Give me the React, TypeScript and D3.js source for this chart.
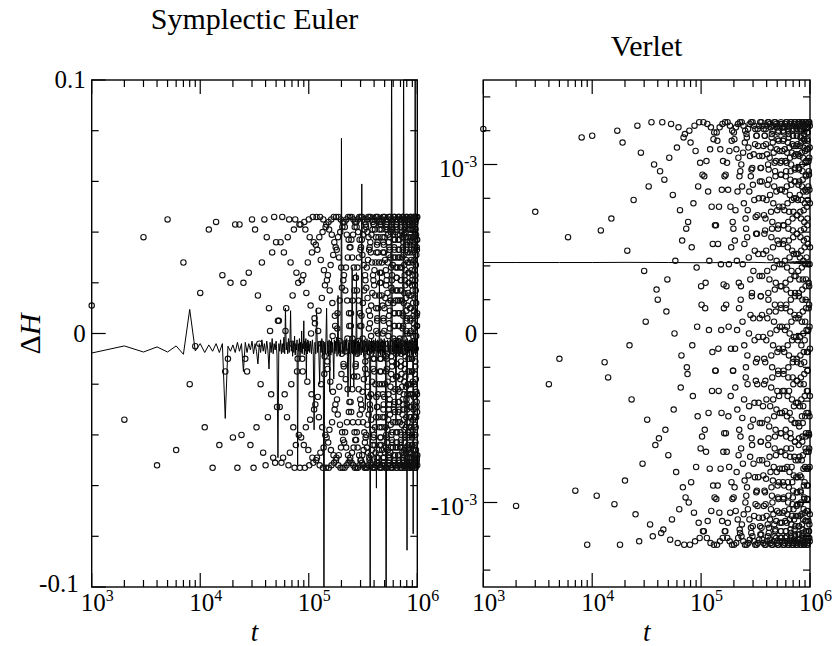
import React, { useEffect, useRef } from "react";
import * as d3 from "d3";

// one sample every 1000 time units: value i of a dot array sits at t = 1000 * (i + 1)
const sampleStep = 1000;

// Symplectic Euler, circles: ΔH in units of 1e-3 (9 samples per row)
const eulerDots = [
  11, -34, 38, -52, 45, -46, 28, -20, -5,
  16, -37, 41, -53, 44, -44, 23, -15, -10,
  20, -41, 43, -53, 43, -40, 20, -10, -15,
  24, -44, 45, -53, 41, -37, 15, -4, -20,
  28, -47, 45, -52, 38, -33, 10, 1, -24,
  32, -49, 46, -51, 36, -29, 5, 5, -29,
  36, -51, 46, -49, 32, -24, 1, 10, -33,
  38, -52, 45, -47, 28, -20, -4, 15, -37,
  41, -53, 45, -44, 24, -15, -10, 20, -40,
  43, -53, 43, -41, 21, -10, -15, 23, -44,
  44, -53, 41, -37, 16, -5, -19, 28, -46,
  45, -52, 38, -34, 11, 0, -24, 32, -49,
  46, -51, 36, -30, 6, 4, -28, 35, -50,
  46, -49, 33, -25, 1, 9, -33, 38, -52,
  46, -47, 29, -20, -4, 14, -37, 40, -53,
  45, -45, 25, -16, -9, 19, -40, 42, -53,
  43, -41, 21, -11, -14, 23, -43, 44, -53,
  41, -38, 17, -6, -19, 27, -46, 45, -52,
  39, -35, 12, -1, -23, 31, -48, 46, -51,
  36, -30, 7, 3, -28, 34, -50, 46, -49,
  33, -26, 2, 8, -32, 38, -52, 46, -48,
  30, -21, -3, 13, -36, 40, -53, 45, -45,
  26, -16, -8, 18, -39, 42, -53, 44, -42,
  21, -12, -13, 23, -43, 44, -53, 42, -39,
  17, -7, -18, 26, -45, 45, -52, 39, -35,
  13, -2, -22, 30, -48, 46, -51, 37, -31,
  8, 3, -27, 34, -50, 46, -49, 34, -27,
  3, 8, -31, 37, -51, 46, -47, 30, -22,
  -2, 13, -35, 39, -52, 45, -45, 26, -17,
  -7, 17, -39, 42, -53, 44, -42, 22, -13,
  -12, 22, -42, 44, -53, 42, -39, 17, -8,
  -17, 26, -45, 45, -53, 40, -35, 13, -3,
  -22, 30, -48, 46, -52, 37, -32, 8, 3,
  -26, 33, -50, 46, -50, 34, -28, 3, 7,
  -30, 37, -51, 46, -48, 31, -23, -2, 12,
  -35, 39, -52, 45, -46, 27, -18, -6, 17,
  -39, 41, -53, 44, -43, 23, -14, -11, 21,
  -41, 43, -53, 42, -40, 18, -9, -16, 26,
  -45, 45, -53, 40, -36, 14, -4, -21, 29,
  -47, 46, -52, 38, -32, 9, 2, -25, 33,
  -49, 46, -50, 34, -28, 4, 7, -30, 36,
  -51, 46, -48, 32, -24, -1, 11, -34, 39,
  -52, 45, -46, 28, -19, -5, 16, -38, 41,
  -53, 44, -44, 23, -14, -10, 21, -41, 43,
  -53, 43, -40, 19, -10, -15, 25, -44, 45,
  -53, 41, -37, 15, -4, -20, 28, -47, 46,
  -52, 38, -33, 10, 1, -25, 32, -49, 46,
  -51, 35, -29, 5, 6, -29, 36, -51, 46,
  -49, 32, -24, 0, 10, -33, 38, -52, 45,
  -46, 28, -20, -5, 15, -37, 41, -53, 44,
  -44, 24, -15, -10, 20, -41, 43, -53, 43,
  -41, 20, -10, -15, 24, -44, 44, -53, 41,
  -37, 15, -5, -20, 28, -46, 45, -52, 38,
  -33, 11, 0, -24, 32, -49, 46, -51, 36,
  -30, 6, 5, -28, 35, -51, 46, -49, 32,
  -25, 1, 10, -33, 38, -52, 46, -47, 29,
  -20, -4, 14, -37, 41, -53, 45, -45, 25,
  -15, -9, 19, -40, 42, -53, 43, -41, 21,
  -10, -14, 23, -43, 44, -53, 41, -38, 16,
  -6, -19, 28, -46, 45, -52, 39, -34, 12,
  -1, -24, 31, -48, 46, -51, 36, -30, 7,
  4, -28, 34, -50, 46, -49, 33, -26, 2,
  9, -32, 38, -52, 46, -47, 30, -21, -4,
  13, -36, 40, -53, 45, -45, 26, -16, -9,
  18, -40, 42, -53, 43, -42, 21, -11, -13,
  23, -43, 44, -53, 41, -39, 17, -7, -18,
  27, -45, 45, -52, 39, -35, 12, -2, -23,
  30, -48, 46, -51, 37, -30, 8, 3, -28,
  34, -50, 46, -50, 33, -27, 3, 8, -31,
  37, -52, 46, -48, 30, -22, -3, 13, -35,
  40, -52, 45, -45, 26, -17, -8, 17, -39,
  42, -53, 43, -43, 22, -12, -12, 22, -43,
  44, -53, 41, -39, 17, -7, -17, 26, -45,
  45, -52, 39, -35, 13, -3, -22, 30, -48,
  46, -52, 37, -31, 8, 3, -27, 33, -50,
  46, -50, 33, -27, 3, 8, -30, 37, -51,
  46, -48, 30, -23, -2, 13, -35, 39, -52,
  45, -45, 26, -18, -7, 17, -39, 42, -53,
  44, -43, 21, -13, -11, 21, -42, 43, -53,
  42, -40, 17, -8, -16, 26, -45, 45, -53,
  40, -36, 13, -4, -21, 30, -47, 46, -52,
  38, -32, 8, 2, -26, 33, -49, 46, -50,
  34, -28, 3, 7, -30, 36, -51, 46, -48,
  31, -24, -2, 12, -34, 39, -52, 45, -46,
  27, -19, -7, 16, -38, 41, -53, 44, -43,
  23, -14, -12, 21, -41, 43, -53, 42, -40,
  19, -9, -17, 25, -45, 45, -53, 40, -37,
  14, -4, -21, 29, -47, 46, -52, 38, -33,
  9, 1, -26, 33, -49, 46, -51, 35, -28,
  5, 6, -30, 36, -51, 46, -49, 32, -24,
  0, 11, -35, 38, -52, 45, -46, 28, -20,
  -5, 16, -39, 41, -53, 44, -44, 24, -15,
  -10, 20, -41, 43, -53, 43, -40, 20, -10,
  -15, 24, -45, 44, -53, 41, -37, 15, -4,
  -20, 28, -47, 45, -52, 38, -33, 10, 0,
  -24, 32, -49, 46, -51, 36, -29, 6, 5,
  -29, 35, -51, 46, -49, 33, -24, 1, 10,
  -33, 38, -52, 46, -47, 29, -20, -4, 15,
  -37, 41, -53, 45, -44, 25, -15, -10, 19,
  -40, 43, -53, 43, -41, 21, -10, -15, 23,
  -44, 44, -53, 41, -38, 17, -5, -19, 28,
  -46, 45, -52, 38, -34, 12, -1, -24, 32,
  -48, 46, -51, 36, -30, 7, 4, -28, 35,
  -50, 46, -49, 33, -25, 2, 9, -33, 38,
  -52, 46, -46, 29, -20, -3, 14, -36, 40,
  -53, 45, -44, 25, -16, -8, 19, -40, 42,
  -53, 43, -40, 21, -11, -13, 23, -43, 44,
  -53, 41, -37, 17, -6, -18, 27, -46, 45,
  -52, 39, -33, 12, -1, -23, 31, -48, 46,
  -51, 37, -29, 7, 3, -27, 34, -50, 46,
  -49, 33, -24, 3, 8, -31, 37, -52, 46,
  -48,
];

// Verlet, circles: ΔH in units of 1e-5 (9 samples per row)
const verletDots = [
  121, -102, 72, -30, -15, 57, -93, 116, -125,
  117, -96, 61, -17, -26, 68, -101, 120, -125,
  113, -87, 49, -7, -39, 79, -107, 123, -123,
  107, -77, 37, 7, -51, 87, -113, 125, -120,
  100, -66, 26, 20, -62, 96, -118, 125, -116,
  91, -57, 13, 32, -72, 104, -122, 124, -110,
  82, -45, 0, 43, -82, 110, -124, 122, -104,
  73, -32, -13, 55, -91, 116, -125, 118, -97,
  62, -20, -24, 66, -100, 120, -125, 113, -88,
  51, -7, -37, 77, -106, 123, -123, 108, -79,
  39, 4, -49, 87, -112, 125, -121, 101, -68,
  28, 17, -61, 94, -117, 125, -117, 93, -57,
  15, 30, -70, 102, -121, 124, -111, 84, -47,
  2, 43, -80, 109, -124, 122, -105, 75, -34,
  -11, 53, -90, 115, -125, 119, -97, 64, -22,
  -22, 64, -98, 119, -125, 114, -90, 53, -9,
  -34, 75, -106, 122, -123, 109, -80, 41, 2,
  -47, 85, -111, 124, -121, 102, -70, 29, 15,
  -59, 93, -117, 125, -117, 94, -59, 17, 28,
  -70, 101, -121, 125, -112, 85, -49, 4, 41,
  -79, 108, -123, 123, -106, 75, -37, -9, 51,
  -88, 114, -125, 120, -98, 66, -22, -22, 62,
  -97, 119, -125, 115, -91, 55, -9, -32, 73,
  -105, 122, -124, 109, -82, 43, 2, -45, 84,
  -110, 124, -121, 104, -72, 30, 15, -57, 93,
  -116, 125, -118, 96, -61, 20, 28, -68, 100,
  -120, 125, -113, 87, -50, 7, 41, -77, 107,
  -123, 123, -107, 77, -39, -7, 53, -87, 113,
  -125, 120, -100, 68, -26, -20, 62, -96, 118,
  -125, 116, -91, 57, -13, -30, 73, -104, 121,
  -124, 110, -84, 45, 0, -43, 84, -110, 124,
  -122, 105, -73, 32, 11, -55, 93, -115, 125,
  -118, 97, -62, 22, 24, -66, 98, -120, 125,
  -114, 88, -51, 9, 37, -77, 106, -123, 123,
  -108, 79, -41, -4, 49, -85, 112, -125, 121,
  -101, 69, -28, -17, 59, -94, 117, -125, 117,
  -93, 59, -15, -30, 70, -102, 121, -124, 111,
  -85, 47, -2, -41, 80, -109, 123, -122, 105,
  -75, 34, 9, -53, 90, -114, 125, -119, 98,
  -64, 22, 22, -64, 98, -119, 125, -115, 90,
  -53, 11, 34, -75, 105, -122, 123, -109, 80,
  -43, -2, 47, -84, 111, -124, 121, -102, 70,
  -30, -15, 59, -93, 117, -125, 117, -94, 61,
  -17, -28, 68, -101, 121, -125, 112, -86, 49,
  -4, -39, 79, -108, 123, -123, 106, -77, 37,
  9, -51, 88, -113, 125, -120, 100, -66, 24,
  20, -62, 97, -118, 125, -115, 91, -55, 13,
  32, -73, 104, -122, 124, -110, 82, -43, 0,
  45, -82, 110, -124, 122, -104, 72, -32, -13,
  57, -91, 116, -125, 118, -96, 62, -20, -26,
  66, -100, 120, -125, 113, -87, 51, -7, -39,
  77, -107, 123, -123, 107, -79, 39, 7, -49,
  87, -113, 125, -120, 101, -68, 26, 17, -61,
  96, -117, 125, -116, 93, -57, 13, 30, -72,
  102, -121, 124, -111, 84, -45, 2, 43, -82,
  109, -124, 122, -105, 73, -34, -11, 55, -90,
  115, -125, 119, -97, 62, -22, -24, 64, -98,
  120, -125, 114, -88, 53, -9, -37, 75, -106,
  123, -123, 108, -80, 41, 4, -47, 85, -112,
  124, -121, 101, -70, 28, 17, -59, 94, -117,
  125, -117, 94, -59, 15, 28, -70, 102, -121,
  124, -112, 85, -47, 4, 41, -80, 108, -123,
  122, -106, 75, -34, -9, 53, -88, 114, -125,
  120, -98, 64, -24, -22, 64, -97, 119, -125,
  115, -90, 55, -11, -34, 73, -105, 122, -124,
  109, -80, 43, 2, -46, 84, -111, 124, -121,
  102, -72, 30, 15, -57, 93, -117, 125, -117,
  96, -61, 17, 26, -68, 101, -120, 125, -112,
  87, -49, 4, 39, -79, 107, -123, 123, -107,
  77, -37, -7, 51, -88, 113, -125, 120, -100,
  66, -26, -20, 62, -96, 118, -125, 116, -91,
  55, -13, -34, 72, -104, 122, -124, 110, -82,
  45, 0, -47, 82, -110, 124, -122, 104, -73,
  32, 13, -59, 91, -116, 125, -118, 96, -62,
  20, 24, -68, 100, -120, 125, -113, 88, -51,
  7, 37, -79, 107, -123, 123, -108, 79, -39,
  -4, 49, -88, 112, -125, 120, -101, 68, -26,
  -17, 61, -97, 117, -125, 117, -93, 57, -15,
  -30, 72, -104, 121, -124, 111, -84, 47, -2,
  -43, 80, -110, 124, -122, 105, -73, 34, 11,
  -53, 90, -116, 125, -119, 97, -64, 22, 24,
  -64, 98, -120, 125, -114, 90, -53, 9, 34,
  -75, 106, -123, 123, -108, 80, -41, -2, 47,
  -85, 111, -125, 121, -102, 70, -28, -15, 59,
  -94, 117, -125, 117, -94, 59, -17, -28, 70,
  -101, 121, -124, 112, -85, 47, -4, -41, 79,
  -108, 123, -122, 106, -75, 37, 9, -53, 88,
  -114, 125, -119, 98, -66, 24, 22, -62, 97,
  -119, 125, -114, 90, -55, 11, 32, -73, 105,
  -122, 124, -108, 82, -43, -2, 45, -84, 111,
  -124, 121, -101, 72, -30, -13, 57, -93, 116,
  -125, 117, -94, 61, -18, -26, 68, -100, 120,
  -125, 113, -85, 49, -7, -39, 79, -107, 123,
  -123, 107, -75, 39, 7, -49, 87, -113, 125,
  -120, 100, -64, 26, 20, -61, 96, -118, 125,
  -116, 91, -53, 13, 32, -72, 104, -122, 124,
  -110, 84, -43, 0, 43, -80, 110, -124, 122,
  -104, 73, -30, -11, 55, -90, 115, -125, 118,
  -97, 62, -17, -24, 66, -98, 120, -125, 114,
  -88, 51, -4, -37, 77, -106, 123, -123, 108,
  -79, 41, 7, -49, 85, -111, 125, -121, 101,
  -68, 28, 20, -61, 94, -117, 125, -117, 93,
  -59, 15, 32, -70, 102, -121, 124, -111, 84,
  -47, 2, 45, -80, 109, -123, 122, -105, 75,
  -34, -11, 56, -90, 115, -125, 119, -98, 64,
  -22, -22, 68, -98, 119, -125, 114, -90, 53,
  -11, -34, 79, -105, 122, -124, 109, -80, 41,
  2, -47, 87, -111, 124, -121, 102, -70, 30,
  15, -59, 96, -117, 125, -117, 94, -60, 17,
  28, -68, 104, -121, 125, -113, 85, -49, 4,
  41, -79, 110, -123, 123, -107, 77, -37, -9,
  51,
];

// Symplectic Euler, solid curve: [sample number, ΔH in units of 1e-3]
const eulerLine = [
  [1, -7.7], [2, -4.9], [3, -7.3], [4, -5.3], [5, -7.3], [6, -4.9], [7, -8.2], [8, 9.5], [9, -6.9], [10, -4],
  [11, -7.5], [12, -4.5], [13, -7], [14, -4], [15, -7.5], [16, -4], [17, -33.5], [18, -5], [19, -7], [20, -4.5],
  [21, -7.5], [22, -3.5], [23, -7], [24, -4], [25, -15], [26, -3.5], [27, -7.5], [28, -4], [29, -6.5], [30, -3],
  [31, -8], [32, -4], [33, -7], [34, -12], [35, -4], [36, -7.5], [37, -2.5], [38, -7], [39, -4], [40, -8],
  [41, -3], [42, -6.5], [43, -14], [44, -3.5], [45, -7.5], [46, -2], [47, -8], [48, -4], [49, -6.5], [50, -3],
  [51, -8.5], [52, -49], [53, -4], [54, -7], [55, -2.5], [56, -8], [57, -4], [58, -7.5], [59, -1.5], [60, -8],
  [61, 10], [62, -6.5], [63, -3.5], [64, -8], [65, -2], [66, -7.5], [67, -4], [68, 9], [69, -7], [70, -3],
  [71, -9], [72, -3.5], [73, -7.5], [74, -1], [75, -8.5], [76, -4], [77, -6.5], [78, -2.5], [79, -52], [80, -4],
  [81, -7], [82, -2], [83, -9], [84, -3.5], [85, -7.5], [86, 1], [87, -8], [88, -4], [89, -6], [90, 5],
  [91, -8.5], [92, -3], [93, -7], [94, -2], [95, -18], [96, -3.5], [97, -8], [98, -2.5], [99, -7], [100, -3],
  [102, -7.5], [104, -3], [106, -8], [108, -2.5], [110, -7], [112, -38], [114, -3.5], [116, -8], [118, 10], [120, -7.5],
  [122, -3], [124, -8.5], [126, -20], [128, -3], [130, -7.5], [132, -2], [134, -9], [136, -3], [138, -110], [140, -3.5],
  [142, -8], [144, -2], [146, 10], [148, -8], [150, -3], [152, -9], [154, -2.5], [156, -23], [158, -3], [160, -8.5],
  [162, -2], [164, -7.5], [166, -3.5], [168, -9], [170, -18], [172, -2.5], [174, -8], [176, -3], [178, -7], [180, -1.5],
  [182, -9], [184, -3], [186, 15], [188, -8], [190, -2.5], [192, -7.5], [194, -3.5], [196, -9], [198, -2], [200, 77],
  [203, -8], [206, -3], [209, -7.5], [212, -2.5], [215, -8.5], [218, -3], [221, -7], [224, -2], [227, -9], [230, -25],
  [233, -3.5], [236, -8], [239, -2.5], [242, -22], [245, -3], [248, -7.5], [251, 26], [254, -8], [257, -2.5], [260, -21],
  [263, -3], [266, -7.5], [269, -2], [272, -8.5], [275, 24], [278, -7], [281, -3], [284, -9], [287, -2.5], [290, -8],
  [293, -3.5], [296, -7.5], [299, -2],
  [304, -8.5], [308, 59], [312, -7.5], [316, -3], [320, -9], [324, -2.5], [328, -8], [332, -30], [336, -3], [340, -7.5],
  [344, -2], [348, -8.5], [352, -3.5], [356, -7], [360, -2.5], [364, -9], [368, -120], [372, -3], [376, -8], [380, -2],
  [384, -7.5], [388, -3], [392, -9], [396, -2.5], [400, -8], [404, -3.5], [408, -7], [412, -2], [416, -8.5], [420, -61],
  [424, -3], [428, -7.5], [432, -2.5], [436, -9], [440, -3], [444, -8], [448, 25], [452, -7.5], [456, -3.5], [460, -8.5],
  [464, -2], [468, -7], [472, -3], [476, -9], [480, -2.5], [484, -8], [488, -3], [492, -7.5], [496, -2], [500, -8.5],
  [508, -3], [516, -120], [524, -8], [532, -2.5], [540, -7.5], [548, -3.5], [556, -9], [564, -2], [572, -8], [580, 120],
  [588, -7.5], [596, -3], [604, -8.5], [612, -2.5], [620, -7], [628, -3], [636, -35], [644, -2.5], [652, -8], [660, -3.5],
  [668, -7.5], [676, -2], [684, -9], [692, -3], [700, -8], [708, -2.5], [716, -7.5], [724, -3.5], [732, -8.5], [740, -2],
  [748, 120], [756, -7], [764, -3], [772, -8.5], [780, -2.5], [788, -7.5], [796, -3], [804, -85.5], [812, -2], [820, -8],
  [828, -3.5], [836, -7.5], [844, -2.5], [852, -9], [860, -3], [868, -7], [876, -2], [884, -8.5], [892, -3.5], [900, -7.5],
  [908, -2.5], [916, -79], [924, -3], [932, -8], [940, -2], [948, -7.5], [956, 120], [964, -8.5], [972, -3], [980, -7.5],
  [988, -2.5], [996, -8], [1000, -4],
];

// Verlet, solid curve: [sample number, ΔH in units of 1e-3]
const verletLine = [
  [1, 0.42], [2, 0.42], [5, 0.42], [10, 0.42], [20, 0.421], [50, 0.42], [100, 0.419], [200, 0.42],
  [300, 0.421], [400, 0.419], [500, 0.42], [600, 0.416], [610, 0.424], [620, 0.415], [630, 0.425],
  [640, 0.415], [650, 0.425], [660, 0.414], [670, 0.426], [680, 0.414], [690, 0.426], [700, 0.413],
  [710, 0.427], [720, 0.413], [730, 0.427], [740, 0.412], [750, 0.428], [760, 0.412], [770, 0.428],
  [780, 0.411], [790, 0.429], [800, 0.411], [810, 0.429], [820, 0.411], [830, 0.429], [840, 0.41],
  [850, 0.43], [860, 0.41], [870, 0.43], [880, 0.41], [890, 0.43], [900, 0.41], [910, 0.43],
  [920, 0.41], [930, 0.43], [940, 0.41], [950, 0.43], [960, 0.41], [970, 0.43], [980, 0.41],
  [990, 0.43], [1000, 0.42],
];

const tDomain = [1e3, 1e6];
const decades = [3, 4, 5, 6];

const eulerYLabels = [
  { value: 0.1, text: "0.1", exp: "" },
  { value: 0, text: "0", exp: "" },
  { value: -0.1, text: "-0.1", exp: "" },
];
const verletYLabels = [
  { value: 1e-3, text: "10", exp: "-3" },
  { value: 0, text: "0", exp: "" },
  { value: -1e-3, text: "-10", exp: "-3" },
];

const panels = [
  {
    id: "euler", title: "Symplectic Euler", titleY: 29, left: 91.7, right: 417.3,
    yMax: 0.1, yTickCount: 10, dots: eulerDots, dotUnit: 1e-3, line: eulerLine, yLabels: eulerYLabels,
  },
  {
    id: "verlet", title: "Verlet", titleY: 56, left: 483.3, right: 810,
    yMax: 1.5e-3, yTickCount: 15, dots: verletDots, dotUnit: 1e-5, line: verletLine, yLabels: verletYLabels,
  },
];

const App = () => {
  const svgRef = useRef<SVGSVGElement>(null);

  useEffect(() => {
    const width = 837;
    const height = 646;
    const top = 80;
    const bottom = 587;
    const font = "'Liberation Serif', 'Times New Roman', serif";

    d3.select(svgRef.current).selectAll("*").remove();
    const svg = d3.select(svgRef.current).attr("width", width).attr("height", height);
    const defs = svg.append("defs");

    panels.forEach((p) => {
      const x = d3.scaleLog().domain(tDomain).range([p.left, p.right]);
      const y = d3.scaleLinear().domain([-p.yMax, p.yMax]).range([bottom, top]);
      const g = svg.append("g");

      defs.append("clipPath").attr("id", `clip-${p.id}`)
        .append("rect")
        .attr("x", p.left).attr("y", top)
        .attr("width", p.right - p.left).attr("height", bottom - top);

      // solid curve
      const line = d3.line<number[]>()
        .x((d) => x(d[0] * sampleStep))
        .y((d) => y(d[1] * 1e-3));
      g.append("path")
        .datum(p.line)
        .attr("d", line)
        .attr("fill", "none")
        .attr("stroke", "#000")
        .attr("stroke-width", 1)
        .attr("clip-path", `url(#clip-${p.id})`);

      // circles
      g.append("g")
        .selectAll("circle")
        .data(p.dots)
        .enter()
        .append("circle")
        .attr("cx", (_, i) => x((i + 1) * sampleStep))
        .attr("cy", (d) => y(d * p.dotUnit))
        .attr("r", 2.7)
        .attr("fill", "none")
        .attr("stroke", "#111")
        .attr("stroke-width", 1.1);

      // frame
      g.append("rect")
        .attr("x", p.left).attr("y", top)
        .attr("width", p.right - p.left).attr("height", bottom - top)
        .attr("fill", "none").attr("stroke", "#000").attr("stroke-width", 1.4);

      const ticks = g.append("g").attr("stroke", "#000").attr("stroke-width", 1.2);

      // x ticks, bottom and top, pointing inward
      x.ticks().forEach((t) => {
        const lg = Math.log10(t);
        const major = Math.abs(lg - Math.round(lg)) < 1e-9;
        const len = major ? 14 : 7;
        const px = x(t);
        ticks.append("line").attr("x1", px).attr("x2", px).attr("y1", bottom).attr("y2", bottom - len);
        ticks.append("line").attr("x1", px).attr("x2", px).attr("y1", top).attr("y2", top + len);
      });

      // y ticks, left and right
      y.ticks(p.yTickCount).forEach((v) => {
        const major = p.yLabels.some((l) => Math.abs(l.value - v) < p.yMax * 1e-6);
        const len = major ? 14 : 7;
        const py = y(v);
        ticks.append("line").attr("x1", p.left).attr("x2", p.left + len).attr("y1", py).attr("y2", py);
        ticks.append("line").attr("x1", p.right).attr("x2", p.right - len).attr("y1", py).attr("y2", py);
      });

      // x tick labels
      decades.forEach((e) => {
        const txt = g.append("text")
          .attr("x", x(Math.pow(10, e)) - 11)
          .attr("y", 611)
          .attr("font-family", font)
          .attr("font-size", 25)
          .attr("fill", "#000");
        txt.append("tspan").text("10");
        txt.append("tspan").attr("dy", -10).attr("font-size", 16).text(String(e));
      });

      // y tick labels (the one at the bottom corner is kept clear of the x label)
      p.yLabels.forEach((l) => {
        const atBottom = Math.abs(l.value + p.yMax) < p.yMax * 1e-6;
        const txt = g.append("text")
          .attr("x", atBottom ? p.left - 13 : p.left - 6)
          .attr("y", y(l.value) + (l.exp ? 12 : atBottom ? 5 : 8))
          .attr("text-anchor", "end")
          .attr("font-family", font)
          .attr("font-size", 25)
          .attr("fill", "#000");
        txt.append("tspan").text(l.text);
        if (l.exp) txt.append("tspan").attr("dy", -10).attr("font-size", 16).text(l.exp);
      });

      // title
      g.append("text")
        .attr("x", (p.left + p.right) / 2)
        .attr("y", p.titleY)
        .attr("text-anchor", "middle")
        .attr("font-family", font)
        .attr("font-size", 30)
        .attr("fill", "#000")
        .text(p.title);

      // x axis title
      g.append("text")
        .attr("x", (p.left + p.right) / 2)
        .attr("y", 641)
        .attr("text-anchor", "middle")
        .attr("font-family", font)
        .attr("font-size", 27)
        .attr("font-style", "italic")
        .attr("fill", "#000")
        .text("t");
    });

    // y axis title
    const yTitle = svg.append("text")
      .attr("transform", "translate(40, 334) rotate(-90)")
      .attr("text-anchor", "middle")
      .attr("font-family", font)
      .attr("font-size", 30)
      .attr("fill", "#000");
    yTitle.append("tspan").text("Δ");
    yTitle.append("tspan").attr("font-style", "italic").text("H");
  }, []);

  return (
    <svg
      ref={svgRef}
      style={{ position: "absolute", left: 0, top: 0, background: "#fff" }}
    ></svg>
  );
};

export default App;
